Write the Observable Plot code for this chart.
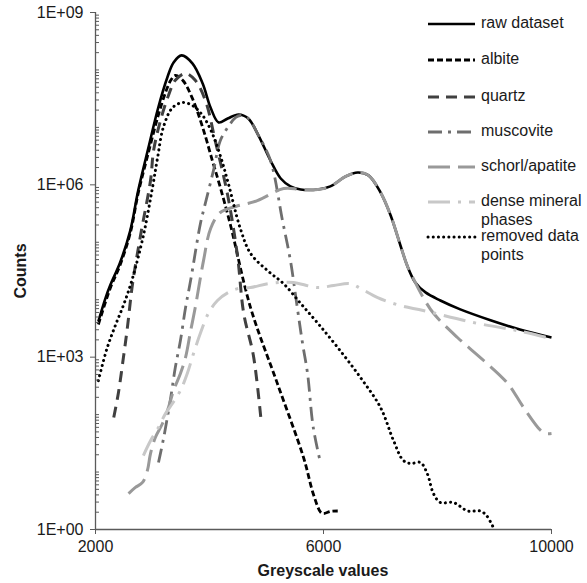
<!DOCTYPE html>
<html><head><meta charset="utf-8">
<script src="https://cdn.jsdelivr.net/npm/d3@7"></script>
<script src="https://cdn.jsdelivr.net/npm/@observablehq/plot@0.6"></script>
<style>body{margin:0;background:#fff}#chart{width:587px;height:583px}</style>
</head><body><div id="chart"></div>
<script>
// ---- data (greyscale value, counts) ----
const rawX = [2050,2180,2260,2430,2610,2750,2930,3100,3260,3370,3510,3700,3880,4020,4160,4320,4510,4680,4860,5070,5250,5420,5600,5900,6120,6390,6600,6790,7000,7180,7350,7470,7610,7790,8050,8400,8930,9460,10000];
const rawY = [4.2e3,1.1e4,1.8e4,4.4e4,1.6e5,8.0e5,4.5e6,2.2e7,7.4e7,1.35e8,1.79e8,1.30e8,5.8e7,2.2e7,1.22e7,1.43e7,1.68e7,1.43e7,7.2e6,2.65e6,1.29e6,9.4e5,8.3e5,8.3e5,9.4e5,1.40e6,1.64e6,1.46e6,7.4e5,2.9e5,8.8e4,3.9e4,2.0e4,1.34e4,9.7e3,6.8e3,4.4e3,3.0e3,2.2e3];

const albiteX = [2050,2260,2430,2610,2750,2930,3100,3230,3320,3400,3530,3700,3880,4050,4190,4370,4720,5190,5650,5820,5950,6000,6120,6250];
const albiteY = [3.7e3,1.6e4,4.0e4,1.45e5,7.2e5,3.7e6,1.61e7,4.1e7,6.6e7,8.0e7,6.6e7,3.2e7,1.0e7,2.65e6,9.0e5,1.96e5,7.3e3,350,17.9,4.2,2.0,1.9,2.06,2.1];

const quartzX = [2320,2400,2490,2560,2650,2790,2965,3020,3140,3280,3400,3580,3750,3930,4100,4320,4490,4600,4770,4900];
const quartzY = [89,233,990,3.3e3,1.9e4,1.31e5,1.19e6,4.0e6,1.32e7,3.6e7,6.6e7,8.7e7,6.6e7,2.9e7,5.9e6,6.5e5,5.9e4,5.8e3,1.07e3,89];

const muscoviteX = [3105,3175,3230,3320,3400,3490,3580,3670,3840,3930,4070,4190,4320,4460,4540,4680,4860,5070,5280,5420,5540,5630,5720,5820,5950];
const muscoviteY = [14.7,31,60,199,660,1.95e3,7.3e3,2.2e4,2.1e5,4.9e5,1.78e6,5.9e6,1.0e7,1.49e7,1.61e7,1.43e7,7.2e6,2.65e6,2.4e5,4.8e4,7.3e3,1.8e3,520,60,14.1];

const schorlX = [2580,2700,2825,2910,2965,3050,3175,3280,3370,3490,3580,3670,3750,3895,4020,4190,4460,4840,5300,5600,5900,6120,6390,6600,6790,7000,7180,7350,7470,7610,7750,7930,8350,8810,9230,9510,9810,9900,10000];
const schorlY = [4.2,5.4,6.6,10.6,21,40,70,133,263,520,990,2.9e3,7.3e3,4.8e4,1.74e5,3.3e5,4.2e5,5.3e5,8.6e5,8.3e5,8.3e5,9.4e5,1.40e6,1.64e6,1.46e6,7.4e5,2.9e5,8.8e4,3.9e4,2.0e4,1.09e4,5.8e3,2.2e3,875,350,133,53,47,47];

const denseX = [2840,2965,3105,3230,3350,3490,3610,3720,3840,3980,4140,4330,4510,4720,5020,5250,5470,5900,6180,6470,6650,6950,7350,7750,8630,9400,10000];
const denseY = [19.4,35,60,105,156,263,520,1.16e3,2.6e3,5.8e3,9.7e3,1.34e4,1.57e4,1.63e4,1.9e4,2.0e4,2.0e4,1.63e4,1.77e4,1.9e4,1.57e4,1.09e4,7.9e3,6.5e3,4.0e3,2.9e3,2.1e3];

const removedX = [2050,2200,2350,2500,2640,2840,3000,3090,3190,3350,3530,3700,3880,4050,4190,4330,4540,4720,5020,5300,5600,5900,6250,6650,7000,7230,7400,7530,7700,7820,7930,8050,8280,8530,8750,8860,8980];
const removedY = [390,1.4e3,3.6e3,8.5e3,2.2e4,1.31e5,9.0e5,3.0e6,1.0e7,2.2e7,2.7e7,2.4e7,1.61e7,7.8e6,3.2e6,1.06e6,1.74e5,6.4e4,3.2e4,1.9e4,8.6e3,3.9e3,1.47e3,440,133,35,15.9,14.1,14.7,9.4,4.2,2.95,2.95,2.1,2.1,1.75,1.08];

const seriesNames = ["raw dataset","albite","quartz","muscovite","schorl/apatite","dense mineral phases","removed data points"];
const xTicks = [2000, 6000, 10000];
const yTicks = [1, 1e3, 1e6, 1e9];
const yTickLabels = ["1E+00","1E+03","1E+06","1E+09"];

// ---- styles ----
const styles = [
  {stroke:"#000000", w:2.6, dash:null, cap:"butt"},
  {stroke:"#000000", w:2.8, dash:"6,3", cap:"butt"},
  {stroke:"#404040", w:3, dash:"11,7", cap:"butt"},
  {stroke:"#6e6e6e", w:2.8, dash:"14,6,3,6", cap:"butt"},
  {stroke:"#999999", w:3, dash:"22,8", cap:"butt"},
  {stroke:"#c8c8c8", w:3, dash:"22,8,3,8", cap:"butt"},
  {stroke:"#000000", w:3, dash:"0.1,5.1", cap:"round"}
];
const seriesData = [
  [rawX, rawY],[albiteX, albiteY],[quartzX, quartzY],[muscoviteX, muscoviteY],
  [schorlX, schorlY],[denseX, denseY],[removedX, removedY]
];
const rows = seriesData.map(([xs, ys]) => xs.map((x, i) => ({x, y: ys[i]})));

const minorTicks = d3.scaleLog().domain([1, 1e9]).ticks().filter(v => !yTicks.includes(v));
const axisColor = "#5a5a5a";

const chart = Plot.plot({
  width: 587, height: 583,
  marginLeft: 95, marginRight: 36, marginTop: 12, marginBottom: 54,
  style: {fontFamily: "'Liberation Sans', Arial, sans-serif", fontSize: "16px", color: "#1a1a1a", background: "#fff"},
  x: {domain: [2000, 10000]},
  y: {type: "log", domain: [1, 1e9]},
  marks: [
    ...rows.map((r, i) => Plot.line(r, {
      x: "x", y: "y", curve: "catmull-rom",
      stroke: styles[i].stroke, strokeWidth: styles[i].w,
      strokeDasharray: styles[i].dash, strokeLinecap: styles[i].cap, strokeLinejoin: "round"
    })),
    Plot.ruleX([2000], {stroke: axisColor, strokeWidth: 1.3}),
    Plot.ruleY([1], {stroke: axisColor, strokeWidth: 1.3}),
    Plot.axisX({ticks: xTicks, tickFormat: d => String(d), tickSize: 5, tickPadding: 6, stroke: axisColor, label: null}),
    Plot.axisY({ticks: yTicks, tickFormat: d => yTickLabels[yTicks.indexOf(d)], tickSize: 5, tickPadding: 7, stroke: axisColor, label: null}),
    Plot.axisY({ticks: minorTicks, tickFormat: () => "", tickSize: 4, dx: 4, stroke: axisColor, label: null})
  ]
});
document.getElementById("chart").appendChild(chart);

// ---- axis titles and legend ----
const svg = d3.select(chart);
svg.append("text").attr("x", 323).attr("y", 572).attr("text-anchor", "middle")
  .attr("dominant-baseline", "middle").attr("font-weight", "bold").attr("fill", "#1a1a1a")
  .text("Greyscale values");
svg.append("text").attr("transform", "translate(22,271) rotate(-90)").attr("text-anchor", "middle")
  .attr("dominant-baseline", "middle").attr("font-weight", "bold").attr("fill", "#1a1a1a")
  .text("Counts");

const legendRows = [24, 60, 97, 132, 167, 202, 237];
const legendLabels = [["raw dataset"],["albite"],["quartz"],["muscovite"],["schorl/apatite"],["dense mineral","phases"],["removed data","points"]];
const lg = svg.append("g").attr("text-anchor", "start");
legendRows.forEach((y, i) => {
  const s = styles[i];
  lg.append("line").attr("x1", 428).attr("x2", 475).attr("y1", y).attr("y2", y)
    .attr("stroke", s.stroke).attr("stroke-width", s.w)
    .attr("stroke-dasharray", s.dash).attr("stroke-linecap", s.cap);
  legendLabels[i].forEach((t, j) => {
    lg.append("text").attr("x", 481).attr("y", y + j * 19).attr("dominant-baseline", "middle")
      .attr("text-anchor", "start").attr("fill", "#1a1a1a").text(t);
  });
});
</script>
</body></html>
